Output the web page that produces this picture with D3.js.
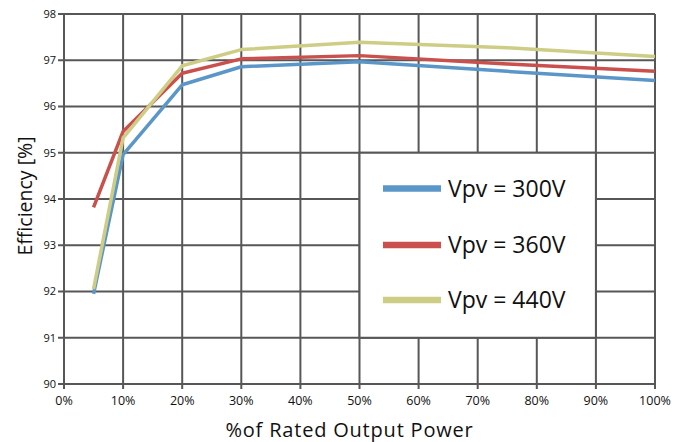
<!DOCTYPE html>
<html>
<head>
<meta charset="utf-8">
<script src="https://cdn.jsdelivr.net/npm/d3@7"></script>
<style>
  body { margin: 0; background: #fff; }
  text { font-family: "Open Sans", "Noto Sans", sans-serif; fill: #111; }
</style>
</head>
<body>
<svg id="chart"></svg>
<script>
var width = 691, height = 442;
var margin = { top: 14, right: 36, bottom: 58, left: 64 };

var loads = [5, 10, 20, 30, 50, 75, 100];
var eff300 = [91.95, 94.96, 96.47, 96.86, 96.97, 96.76, 96.56];
var eff360 = [93.82, 95.46, 96.72, 97.03, 97.1, 96.92, 96.76];
var eff440 = [92.05, 95.32, 96.88, 97.23, 97.39, 97.27, 97.08];
var seriesNames = ["Vpv = 300V", "Vpv = 360V", "Vpv = 440V"];
var seriesColors = ["#5b96c8", "#c9504c", "#cdcd86"];
var xTicks = [0, 10, 20, 30, 40, 50, 60, 70, 80, 90, 100];
var yTicks = [90, 91, 92, 93, 94, 95, 96, 97, 98];

var gridColor = "#575757";

var svg = d3.select("#chart")
  .attr("width", width)
  .attr("height", height);

svg.append("rect")
  .attr("width", width)
  .attr("height", height)
  .attr("fill", "#fff");

var x = d3.scaleLinear().domain([0, 100]).range([margin.left, width - margin.right]);
var y = d3.scaleLinear().domain([90, 98]).range([height - margin.bottom, margin.top]);

// grid
svg.append("g")
  .selectAll("line")
  .data(xTicks)
  .enter()
  .append("line")
  .attr("x1", function (d) { return x(d); })
  .attr("x2", function (d) { return x(d); })
  .attr("y1", y(98))
  .attr("y2", y(90) + 5)
  .attr("stroke", gridColor)
  .attr("stroke-width", 2);

svg.append("g")
  .selectAll("line")
  .data(yTicks)
  .enter()
  .append("line")
  .attr("x1", x(0) - 6)
  .attr("x2", x(100))
  .attr("y1", function (d) { return y(d); })
  .attr("y2", function (d) { return y(d); })
  .attr("stroke", gridColor)
  .attr("stroke-width", 2);

// tick labels
svg.append("g")
  .selectAll("text")
  .data(yTicks)
  .enter()
  .append("text")
  .attr("x", x(0) - 8)
  .attr("y", function (d) { return y(d); })
  .attr("dy", "0.35em")
  .attr("text-anchor", "end")
  .style("font-size", "11px")
  .text(function (d) { return d; });

svg.append("g")
  .selectAll("text")
  .data(xTicks)
  .enter()
  .append("text")
  .attr("x", function (d) { return x(d); })
  .attr("y", y(90) + 21)
  .attr("text-anchor", "middle")
  .style("font-size", "12.5px")
  .text(function (d) { return d + "%"; });

// axis titles
svg.append("text")
  .attr("x", (x(0) + x(100)) / 2 - 10)
  .attr("y", 437)
  .attr("text-anchor", "middle")
  .style("font-size", "20px")
  .style("letter-spacing", "0.8px")
  .text("%of Rated Output Power");

svg.append("text")
  .attr("transform", "translate(32,196) rotate(-90)")
  .attr("text-anchor", "middle")
  .style("font-size", "19.5px")
  .text("Efficiency [%]");

// lines
var allSeries = [eff300, eff360, eff440];
var line = d3.line()
  .x(function (d, i) { return x(loads[i]); })
  .y(function (d) { return y(d); });

svg.append("g")
  .selectAll("path")
  .data(allSeries)
  .enter()
  .append("path")
  .attr("d", line)
  .attr("fill", "none")
  .attr("stroke", function (d, i) { return seriesColors[i]; })
  .attr("stroke-width", 3.5)
  .attr("stroke-linejoin", "round");

// legend sits on the grid cells 50%-90% / 91-95
var legend = svg.append("g");
legend.append("rect")
  .attr("x", x(50))
  .attr("y", y(95))
  .attr("width", x(90) - x(50))
  .attr("height", y(91) - y(95))
  .attr("fill", "#fff")
  .attr("stroke", gridColor)
  .attr("stroke-width", 2);

var legendRows = [188.5, 245, 300];
seriesNames.forEach(function (name, i) {
  legend.append("line")
    .attr("x1", 383)
    .attr("x2", 441)
    .attr("y1", legendRows[i])
    .attr("y2", legendRows[i])
    .attr("stroke", seriesColors[i])
    .attr("stroke-width", 6.5);
  legend.append("text")
    .attr("x", 448)
    .attr("y", legendRows[i])
    .attr("dy", "0.35em")
    .style("font-size", "23px")
    .text(name);
});
</script>
</body>
</html>
